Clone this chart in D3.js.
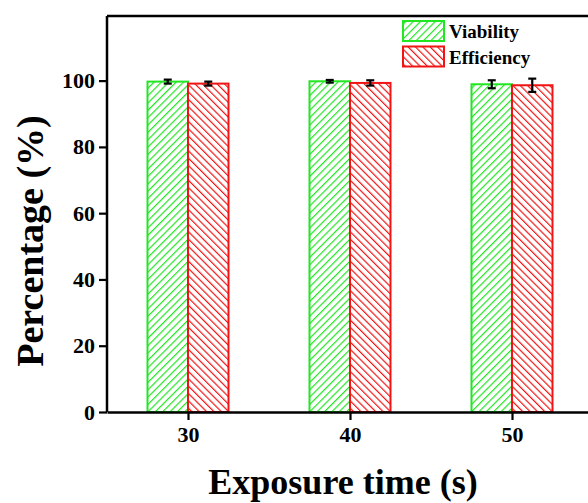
<!DOCTYPE html>
<html><head><meta charset="utf-8">
<script src="https://cdn.jsdelivr.net/npm/d3@7"></script>
<style>body{margin:0;background:#fff}svg{display:block}</style>
</head><body>
<script>
const categories = [30, 40, 50];
const seriesNames = ["Viability", "Efficiency"];
const viability = [99.7, 99.8, 98.9];
const viabilityErr = [0.6, 0.4, 1.2];
const efficiency = [99.1, 99.3, 98.6];
const efficiencyErr = [0.6, 0.8, 2.0];
const yTicks = [0, 20, 40, 60, 80, 100];
const colors = ["#22e622", "#f01414"];
const FONT = "'Liberation Serif', 'Times New Roman', Times, 'DejaVu Serif', serif";

const W = 588, H = 503;
const svg = d3.select("body").append("svg").attr("width", W).attr("height", H);
const x = d3.scaleLinear().domain([25, 55]).range([107, 593]);
const y = d3.scaleLinear().domain([0, 119.5]).range([412, 16]);
const half = 2.5;

const defs = svg.append("defs");
[["hatchG", colors[0], 45], ["hatchR", colors[1], -45]].forEach(([id, c, ang]) => {
  const p = defs.append("pattern").attr("id", id).attr("patternUnits", "userSpaceOnUse")
    .attr("width", 5.2).attr("height", 5.2).attr("patternTransform", `rotate(${ang})`);
  p.append("rect").attr("width", 5.2).attr("height", 5.2).attr("fill", "#fff");
  p.append("line").attr("x1", 0).attr("y1", 0).attr("x2", 0).attr("y2", 5.2)
    .attr("stroke", c).attr("stroke-width", 2.4);
});

const series = [
  {name: seriesNames[0], vals: viability, err: viabilityErr, off: -half, fill: "url(#hatchG)", col: colors[0]},
  {name: seriesNames[1], vals: efficiency, err: efficiencyErr, off: 0, fill: "url(#hatchR)", col: colors[1]}
];

series.forEach(s => {
  svg.append("g").selectAll("rect").data(categories).join("rect")
    .attr("x", d => x(d + s.off))
    .attr("width", d => x(d + s.off + half) - x(d + s.off))
    .attr("y", (d, i) => y(s.vals[i]))
    .attr("height", (d, i) => y(0) - y(s.vals[i]))
    .attr("fill", s.fill).attr("stroke", s.col).attr("stroke-width", 2);
});

// error bars
series.forEach(s => {
  const g = svg.append("g").attr("stroke", "#000").attr("stroke-width", 2.2);
  categories.forEach((d, i) => {
    const cx = x(d + s.off + half / 2);
    const top = y(s.vals[i] + s.err[i]), bot = y(s.vals[i] - s.err[i]);
    g.append("line").attr("x1", cx).attr("x2", cx).attr("y1", top).attr("y2", bot);
    g.append("line").attr("x1", cx - 4).attr("x2", cx + 4).attr("y1", top).attr("y2", top);
    g.append("line").attr("x1", cx - 4).attr("x2", cx + 4).attr("y1", bot).attr("y2", bot);
  });
});

// frame top
svg.append("line").attr("x1", x(25)).attr("x2", W).attr("y1", y(119.5)).attr("y2", y(119.5))
  .attr("stroke", "#000").attr("stroke-width", 2.5);

// axes
const yAxis = svg.append("g").attr("transform", `translate(${x(25)},0)`)
  .call(d3.axisLeft(y).tickValues(yTicks).tickSize(8).tickPadding(4).tickSizeOuter(0));
const xAxis = svg.append("g").attr("transform", `translate(0,${y(0)})`)
  .call(d3.axisBottom(x).tickValues(categories).tickSize(8).tickPadding(6).tickSizeOuter(0));
[yAxis, xAxis].forEach(a => {
  a.attr("font-family", null).attr("font-size", null);
  a.select(".domain").attr("stroke-width", 2.5);
  a.selectAll(".tick line").attr("stroke-width", 2.2);
  a.selectAll("text").style("font-family", FONT).style("font-weight", "bold").style("font-size", "22px");
});
yAxis.select(".domain").attr("d", `M0,${y(0)}V${y(119.5)}`);

// axis titles
svg.append("text").attr("transform", "translate(43,241) rotate(-90)")
  .attr("text-anchor", "middle").style("font-family", FONT).style("font-weight", "bold")
  .style("font-size", "38px").text("Percentage (%)");
svg.append("text").attr("x", 343).attr("y", 494)
  .attr("text-anchor", "middle").style("font-family", FONT).style("font-weight", "bold")
  .style("font-size", "36px").text("Exposure time (s)");

// legend
const lg = svg.append("g");
series.forEach((s, i) => {
  const yy = 21 + i * 25.5;
  lg.append("rect").attr("x", 403).attr("y", yy).attr("width", 41).attr("height", 20)
    .attr("fill", s.fill).attr("stroke", s.col).attr("stroke-width", 2);
  lg.append("text").attr("x", 449).attr("y", yy + 17).style("font-family", FONT)
    .style("font-weight", "bold").style("font-size", "19px").text(s.name);
});
</script>
</body></html>
